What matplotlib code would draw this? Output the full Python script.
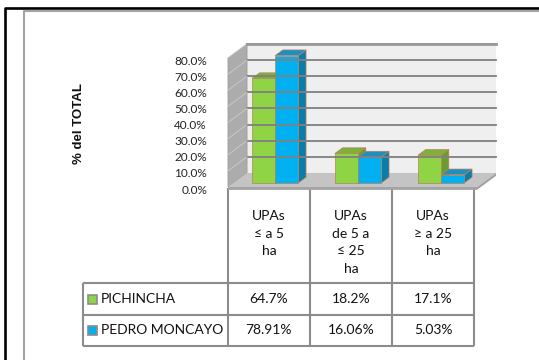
import matplotlib
matplotlib.use("Agg")
import matplotlib.pyplot as plt
from matplotlib.patches import Polygon, Rectangle
from matplotlib.transforms import ScaledTranslation

categories = ["UPAs\n≤ a 5\nha", "UPAs\nde 5 a\n≤ 25\nha", "UPAs\n≥ a 25\nha"]
series_names = ["PICHINCHA", "PEDRO MONCAYO"]
pichincha = [0.647, 0.182, 0.171]
pedro_moncayo = [0.7891, 0.1606, 0.0503]
table_pichincha = ["64.7%", "18.2%", "17.1%"]
table_pedro = ["78.91%", "16.06%", "5.03%"]
yticks = [0.0, 0.1, 0.2, 0.3, 0.4, 0.5, 0.6, 0.7, 0.8]

front = ["#8fd444", "#00b0f0"]
top = ["#7cb23a", "#1d8fc2"]
side = ["#6c9c2e", "#0a7dab"]

W, H = 539, 360
fig = plt.figure(figsize=(W / 100, H / 100), dpi=100)

# full-figure pixel canvas for frame and table
bg = fig.add_axes([0, 0, 1, 1], zorder=0)
bg.set_xlim(0, W)
bg.set_ylim(H, 0)
bg.axis("off")

# chart axes = front plane of the 3D box
x0, x1, y0, y1 = 228, 477, 187, 58
ax = fig.add_axes([x0 / W, 1 - y0 / H, (x1 - x0) / W, (y0 - y1) / H], zorder=1)
ax.set_xlim(0, 3)
ax.set_ylim(0, 0.8)
ax.axis("off")
ax.patch.set_alpha(0)

DX, DY = 0.229, 0.087  # depth offset in data units

# outer frame
bg.plot([4.5, 4.5, W], [H, 7.5, 7.5], color="black", lw=1.9, solid_capstyle="butt")
bg.plot([23.5, 23.5, W], [H, 10.5, 10.5], color="#a3a3a3", lw=1.5, solid_capstyle="butt")

# walls and floor
ax.add_patch(Polygon([(DX, DY), (3 + DX, DY), (3 + DX, 0.8 + DY), (DX, 0.8 + DY)],
                     closed=True, fc="#efefef", ec="none", clip_on=False))
ax.add_patch(Polygon([(0, 0), (0, 0.8), (DX, 0.8 + DY), (DX, DY)],
                     closed=True, fc="#acacac", ec="#9a9a9a", lw=0.6, clip_on=False))
for v in yticks[1:]:
    ax.plot([DX, 3 + DX], [v + DY, v + DY], color="#808080", lw=1.3, clip_on=False)
    ax.plot([0, DX], [v, v + DY], color="#cccccc", lw=0.6, clip_on=False)
ax.plot([DX, 3 + DX], [0.8 + DY, 0.8 + DY], color="#9a9a9a", lw=2.0, clip_on=False)
ax.add_patch(Polygon([(0, 0), (3, 0), (3 + DX, DY), (DX, DY)],
                     closed=True, fc="#c4c4c4", ec="none", clip_on=False))
ax.add_patch(Polygon([(0, -0.018), (3, -0.018), (3 + DX, DY - 0.018), (3 + DX, DY), (3, 0), (0, 0)],
                     closed=True, fc="#a4a4a4", ec="none", clip_on=False))

# 3D bars
f0, fd, bw, gap = 0.3, 0.4, 0.28, 0.22
for s, vals in enumerate([pichincha, pedro_moncayo]):
    for i, v in enumerate(vals):
        xl = i + gap + s * bw + f0 * DX
        xr = xl + bw
        yb = f0 * DY
        yt = yb + v
        ddx, ddy = fd * DX, fd * DY
        ax.add_patch(Polygon([(xr, yb), (xr + ddx, yb + ddy), (xr + ddx, yt + ddy), (xr, yt)],
                             closed=True, fc=side[s], ec="#b8805a", lw=0.5, clip_on=False))
        ax.add_patch(Polygon([(xl, yt), (xr, yt), (xr + ddx, yt + ddy), (xl + ddx, yt + ddy)],
                             closed=True, fc=top[s], ec="#b8805a", lw=0.5, clip_on=False))
        ax.add_patch(Rectangle((xl, yb), bw, v, fc=front[s], ec="#b8805a", lw=0.5, clip_on=False))

# y tick labels
lab_tr = ax.get_yaxis_transform() + ScaledTranslation(-21 / 100, -3 / 100, fig.dpi_scale_trans)
for v in yticks:
    ax.text(0, v, f"{v * 100:.1f}%", transform=lab_tr, ha="right", va="center",
            fontsize=8.5, family=["Lato", "DejaVu Sans"], color="#222222")

bg.text(79, 124, "% del TOTAL", rotation=90, ha="center", va="center",
        fontsize=9.5, fontweight="bold", family="Liberation Sans", color="#111111")

# data table
line_c = "#8c8c8c"
cols = [228, 310, 392, 474]
for cx in cols:
    bg.plot([cx, cx], [188, 346], color=line_c, lw=1.5, solid_capstyle="butt")
for ry in [283, 315, 346]:
    bg.plot([83, 474], [ry, ry], color=line_c, lw=1.5, solid_capstyle="butt")
bg.plot([83, 83], [283, 346], color=line_c, lw=1.5, solid_capstyle="butt")

tfont = dict(fontsize=10, family=["Lato", "DejaVu Sans"], color="#111111")
for i, c in enumerate(categories):
    bg.text((cols[i] + cols[i + 1]) / 2, 210, c, ha="center", va="top",
            linespacing=1.56, **tfont)

row_y = [299, 330]
for r, (name, vals) in enumerate(zip(series_names, [table_pichincha, table_pedro])):
    bg.add_patch(Rectangle((88, row_y[r] - 4.5), 9, 9, fc=front[r], ec="#8c8c8c", lw=1.2))
    bg.text(101, row_y[r], name, ha="left", va="center", **tfont)
    for i, t in enumerate(vals):
        bg.text((cols[i] + cols[i + 1]) / 2, row_y[r], t, ha="center", va="center", **tfont)

fig.savefig("out.png", dpi=100)
